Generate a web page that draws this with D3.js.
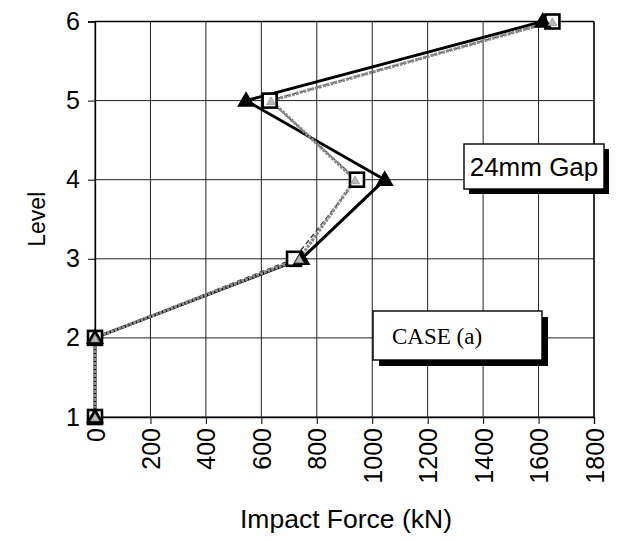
<!DOCTYPE html>
<html>
<head>
<meta charset="utf-8">
<script src="https://cdn.jsdelivr.net/npm/d3@7"></script>
<style>
  html, body { margin: 0; padding: 0; background: #fff; }
  svg { display: block; }
</style>
</head>
<body>
<svg id="chart" width="618" height="541"></svg>
<script>
// Storey levels and impact force per level (kN) for three response series
const levels = [1, 2, 3, 4, 5, 6];
const forceSolid = [0, 0, 745, 1045, 545, 1615];     // black line, filled triangles
const forceSquare = [0, 0, 718, 945, 630, 1650];     // dashed line, open squares
const forceGray = [0, 0, 737, 938, 635, 1650];       // gray line, gray triangles
const xTicks = [0, 200, 400, 600, 800, 1000, 1200, 1400, 1600, 1800];
const yTicks = [1, 2, 3, 4, 5, 6];

const svg = d3.select("#chart");
const x = d3.scaleLinear().domain([0, 1800]).range([95, 594]);
const y = d3.scaleLinear().domain([1, 6]).range([417, 21.5]);
const sans = "Liberation Sans, Arial, Helvetica, sans-serif";

// grid
const grid = svg.append("g");
grid.selectAll("line.v").data(xTicks).join("line")
  .attr("x1", d => x(d)).attr("x2", d => x(d))
  .attr("y1", y(6)).attr("y2", y(1))
  .attr("stroke", "#222").attr("stroke-width", 1);
grid.selectAll("line.h").data(yTicks).join("line")
  .attr("x1", x(0)).attr("x2", x(1800))
  .attr("y1", d => y(d)).attr("y2", d => y(d))
  .attr("stroke", "#222").attr("stroke-width", 1);

// axes
const xAxis = svg.append("g").attr("transform", `translate(0,${y(1)})`)
  .call(d3.axisBottom(x).tickValues(xTicks).tickSize(7).tickPadding(5).tickFormat(d3.format("d")));
xAxis.selectAll("text")
  .attr("transform", "rotate(-90)")
  .attr("text-anchor", "end")
  .attr("dy", "0.36em")
  .attr("x", -11).attr("y", 0);
const yAxis = svg.append("g").attr("transform", `translate(${x(0)},0)`)
  .call(d3.axisLeft(y).tickValues(yTicks).tickSize(7).tickPadding(8).tickFormat(d3.format("d")));
[xAxis, yAxis].forEach(a => {
  a.select(".domain").attr("stroke", "#000").attr("stroke-width", 1.3);
  a.selectAll(".tick line").attr("stroke", "#000");
  a.selectAll("text").attr("font-family", sans).attr("font-size", 25).attr("fill", "#000");
});
// top and right frame
svg.append("line").attr("x1", x(0)).attr("x2", x(1800)).attr("y1", y(6)).attr("y2", y(6))
  .attr("stroke", "#000").attr("stroke-width", 1.3);
svg.append("line").attr("x1", x(1800)).attr("x2", x(1800)).attr("y1", y(6)).attr("y2", y(1))
  .attr("stroke", "#000").attr("stroke-width", 1.3);

// axis titles
svg.append("text").attr("x", 346).attr("y", 528)
  .attr("text-anchor", "middle").attr("font-family", sans)
  .attr("font-size", 26.5).text("Impact Force (kN)");
svg.append("text").attr("transform", `translate(45,${(y(1) + y(6)) / 2}) rotate(-90)`)
  .attr("text-anchor", "middle").attr("font-family", sans)
  .attr("font-size", 23).text("Level");

// series lines: solid black underneath, dashed and gray on top
const line = vals => d3.line().x(d => x(d)).y((d, i) => y(levels[i]))(vals);
svg.append("path").attr("d", line(forceSolid)).attr("fill", "none")
  .attr("stroke", "#000").attr("stroke-width", 3);
svg.append("path").attr("d", line(forceSquare)).attr("fill", "none")
  .attr("stroke", "#333").attr("stroke-width", 1.3).attr("stroke-dasharray", "5,3");
svg.append("path").attr("d", line(forceGray)).attr("fill", "none")
  .attr("stroke", "#8a8a8a").attr("stroke-width", 3.2).attr("stroke-dasharray", "3,1");

// markers
const tri = d3.symbol().type(d3.symbolTriangle);
svg.selectAll("rect.sq").data(forceSquare).join("rect")
  .attr("x", d => x(d) - 7).attr("y", (d, i) => y(levels[i]) - 7)
  .attr("width", 14).attr("height", 14)
  .attr("fill", "#fff").attr("stroke", "#000").attr("stroke-width", 2.6);
svg.selectAll("path.bt").data(forceSolid).join("path")
  .attr("transform", (d, i) => `translate(${x(d)},${y(levels[i]) + 1})`)
  .attr("d", tri.size(140)).attr("fill", "#000");
svg.selectAll("path.gt").data(forceGray).join("path")
  .attr("transform", (d, i) => `translate(${x(d)},${y(levels[i]) + 1.5})`)
  .attr("d", tri.size(34)).attr("fill", "#b8b8b8").attr("stroke", "#808080").attr("stroke-width", 0.6);

// annotation boxes
function box(x0, y0, w, h, sh, label, font, size, tx) {
  const g = svg.append("g");
  g.append("rect").attr("x", x0 + sh).attr("y", y0 + sh).attr("width", w).attr("height", h).attr("fill", "#000");
  g.append("rect").attr("x", x0).attr("y", y0).attr("width", w).attr("height", h)
    .attr("fill", "#fff").attr("stroke", "#000").attr("stroke-width", 1.4);
  g.append("text")
    .attr("x", tx == null ? x0 + w / 2 : x0 + tx).attr("y", y0 + h / 2).attr("dy", "0.35em")
    .attr("text-anchor", tx == null ? "middle" : "start")
    .attr("font-family", font).attr("font-size", size).text(label);
}
box(464, 144, 140, 45, 5, "24mm Gap", sans, 26, null);
box(373, 311, 169, 49, 6, "CASE (a)", "Liberation Serif, Times New Roman, serif", 23, 19);
</script>
</body>
</html>
